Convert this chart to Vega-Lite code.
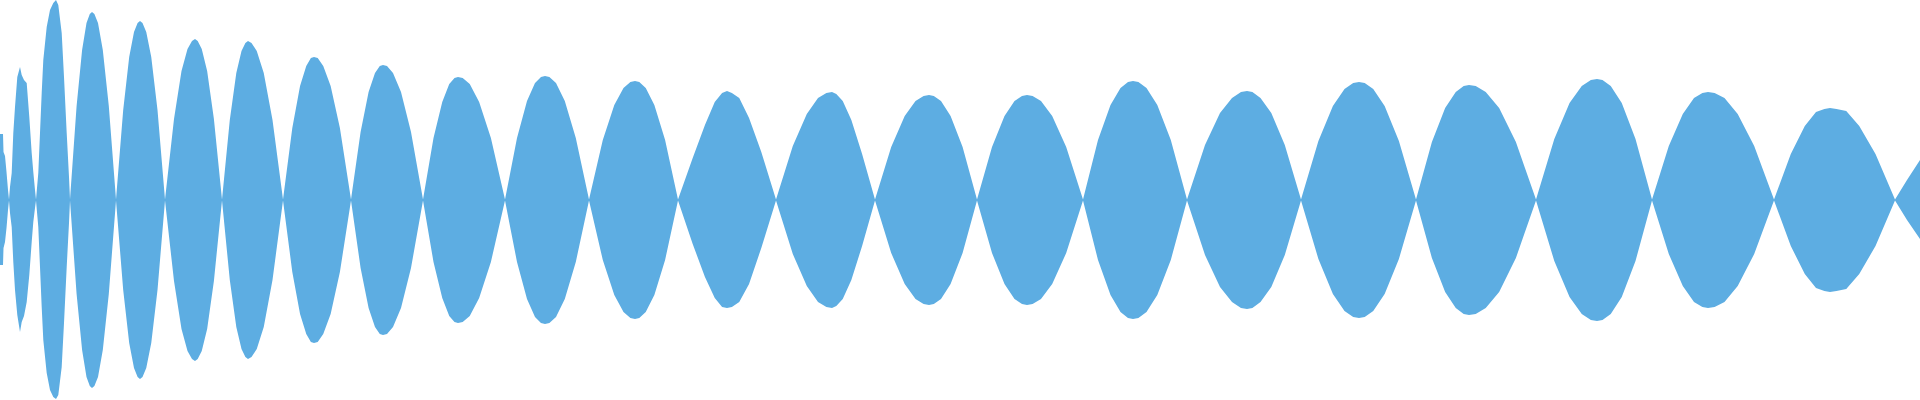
{
"$schema": "https://vega.github.io/schema/vega-lite/v6.json",
"width": 1920, "height": 400,
"autosize": {"type": "fit", "contains": "padding"},
"padding": 0,
"background": "white",
"config": {"view": {"stroke": null}},
"data": {"values": [
{"t":0,"hi":66,"lo":-65},{"t":3,"hi":66,"lo":-65},{"t":3.5,"hi":48,"lo":-48},{"t":5,"hi":44,"lo":-42},{"t":6.5,"hi":28,"lo":-28},{"t":8,"hi":10,"lo":-10},{"t":9,"hi":0.5,"lo":-0.5},
{"t":10,"hi":13,"lo":-13},{"t":11.7,"hi":27,"lo":-27},{"t":13.3,"hi":67,"lo":-62},{"t":15,"hi":93,"lo":-90},{"t":17.3,"hi":123,"lo":-115},{"t":20,"hi":133,"lo":-132},{"t":21.7,"hi":125,"lo":-122},{"t":24,"hi":120,"lo":-116},{"t":26.7,"hi":117,"lo":-102},{"t":29.3,"hi":83,"lo":-75},{"t":31.7,"hi":47,"lo":-42},{"t":33.3,"hi":28,"lo":-22},{"t":35,"hi":10,"lo":-8},{"t":36,"hi":0.5,"lo":-0.5},
{"t":38.3,"hi":27,"lo":-27},{"t":40,"hi":67,"lo":-67},{"t":41.7,"hi":107,"lo":-107},{"t":43.3,"hi":140,"lo":-140},{"t":46.7,"hi":173,"lo":-173},{"t":50,"hi":190,"lo":-190},{"t":53.3,"hi":197,"lo":-197},{"t":56,"hi":200,"lo":-199},{"t":58.3,"hi":195,"lo":-195},{"t":61.7,"hi":167,"lo":-167},{"t":64,"hi":123,"lo":-123},{"t":66.7,"hi":67,"lo":-67},{"t":69,"hi":23,"lo":-23},{"t":70,"hi":0.5,"lo":-0.5},
{"t":76.6,"hi":94,"lo":-94},{"t":82.1,"hi":150,"lo":-150},{"t":86.5,"hi":177,"lo":-177},{"t":89.8,"hi":186,"lo":-186},{"t":92,"hi":188,"lo":-188},{"t":94.4,"hi":186,"lo":-186},{"t":98,"hi":177,"lo":-177},{"t":102.8,"hi":150,"lo":-150},{"t":108.8,"hi":94,"lo":-94},{"t":116,"hi":0.5,"lo":-0.5},
{"t":123.2,"hi":90,"lo":-90},{"t":129.2,"hi":143,"lo":-143},{"t":134,"hi":168,"lo":-168},{"t":137.6,"hi":177,"lo":-177},{"t":140,"hi":179,"lo":-179},{"t":142.5,"hi":177,"lo":-177},{"t":146.25,"hi":168,"lo":-168},{"t":151.25,"hi":143,"lo":-143},{"t":157.5,"hi":90,"lo":-90},{"t":165,"hi":0.5,"lo":-0.5},
{"t":174,"hi":81,"lo":-81},{"t":181.5,"hi":129,"lo":-129},{"t":187.5,"hi":151,"lo":-151},{"t":192,"hi":159,"lo":-159},{"t":195,"hi":161,"lo":-161},{"t":197.7,"hi":159,"lo":-159},{"t":201.75,"hi":151,"lo":-151},{"t":207.15,"hi":129,"lo":-129},{"t":213.9,"hi":81,"lo":-81},{"t":222,"hi":0.5,"lo":-0.5},
{"t":229.8,"hi":80,"lo":-80},{"t":236.3,"hi":127,"lo":-127},{"t":241.5,"hi":149,"lo":-149},{"t":245.4,"hi":157,"lo":-157},{"t":248,"hi":159,"lo":-159},{"t":251.5,"hi":157,"lo":-157},{"t":256.75,"hi":149,"lo":-149},{"t":263.75,"hi":127,"lo":-127},{"t":272.5,"hi":80,"lo":-80},{"t":283,"hi":0.5,"lo":-0.5},
{"t":292.3,"hi":72,"lo":-72},{"t":300.05,"hi":114,"lo":-114},{"t":306.25,"hi":134,"lo":-134},{"t":310.9,"hi":142,"lo":-142},{"t":314,"hi":143,"lo":-143},{"t":317.7,"hi":142,"lo":-142},{"t":323.25,"hi":134,"lo":-134},{"t":330.65,"hi":114,"lo":-114},{"t":339.9,"hi":72,"lo":-72},{"t":351,"hi":0.5,"lo":-0.5},
{"t":360.6,"hi":68,"lo":-68},{"t":368.6,"hi":108,"lo":-108},{"t":375,"hi":127,"lo":-127},{"t":379.8,"hi":134,"lo":-134},{"t":383,"hi":135,"lo":-135},{"t":387,"hi":134,"lo":-134},{"t":393,"hi":127,"lo":-127},{"t":401,"hi":108,"lo":-108},{"t":411,"hi":68,"lo":-68},{"t":423,"hi":0.5,"lo":-0.5},
{"t":433.5,"hi":62,"lo":-62},{"t":442.25,"hi":98,"lo":-98},{"t":449.25,"hi":116,"lo":-116},{"t":454.5,"hi":122,"lo":-122},{"t":458,"hi":123,"lo":-123},{"t":462.7,"hi":122,"lo":-122},{"t":469.75,"hi":116,"lo":-116},{"t":479.15,"hi":98,"lo":-98},{"t":490.9,"hi":62,"lo":-62},{"t":505,"hi":0.5,"lo":-0.5},
{"t":517,"hi":62,"lo":-62},{"t":527,"hi":99,"lo":-99},{"t":535,"hi":117,"lo":-117},{"t":541,"hi":123,"lo":-123},{"t":545,"hi":124,"lo":-124},{"t":549.4,"hi":123,"lo":-123},{"t":556,"hi":117,"lo":-117},{"t":564.8,"hi":99,"lo":-99},{"t":575.8,"hi":62,"lo":-62},{"t":589,"hi":0.5,"lo":-0.5},
{"t":602.8,"hi":60,"lo":-60},{"t":614.3,"hi":95,"lo":-95},{"t":623.5,"hi":112,"lo":-112},{"t":630.4,"hi":118,"lo":-118},{"t":635,"hi":119,"lo":-119},{"t":639.3,"hi":118,"lo":-118},{"t":645.75,"hi":112,"lo":-112},{"t":654.35,"hi":95,"lo":-95},{"t":665.1,"hi":60,"lo":-60},{"t":678,"hi":0.5,"lo":-0.5},
{"t":692.7,"hi":42,"lo":-44},{"t":704.95,"hi":75,"lo":-77},{"t":714.75,"hi":98,"lo":-98},{"t":722.1,"hi":107,"lo":-107},{"t":727,"hi":109,"lo":-108},{"t":731.9,"hi":107,"lo":-107},{"t":739.25,"hi":102,"lo":-102},{"t":749.05,"hi":82,"lo":-84},{"t":761.3,"hi":48,"lo":-48},{"t":776,"hi":0.5,"lo":-0.5},
{"t":792.8,"hi":54,"lo":-54},{"t":806.8,"hi":86,"lo":-86},{"t":818,"hi":102,"lo":-102},{"t":826.4,"hi":107,"lo":-107},{"t":832,"hi":108,"lo":-108},{"t":836.3,"hi":106,"lo":-106},{"t":842.75,"hi":99,"lo":-99},{"t":851.35,"hi":80,"lo":-80},{"t":862.1,"hi":46,"lo":-46},{"t":875,"hi":0.5,"lo":-0.5},
{"t":891.2,"hi":53,"lo":-53},{"t":904.7,"hi":84,"lo":-84},{"t":915.5,"hi":99,"lo":-99},{"t":923.6,"hi":104,"lo":-104},{"t":929,"hi":105,"lo":-105},{"t":933.8,"hi":104,"lo":-104},{"t":941,"hi":99,"lo":-99},{"t":950.6,"hi":84,"lo":-84},{"t":962.6,"hi":53,"lo":-53},{"t":977,"hi":0.5,"lo":-0.5},
{"t":992,"hi":53,"lo":-53},{"t":1004.5,"hi":84,"lo":-84},{"t":1014.5,"hi":99,"lo":-99},{"t":1022,"hi":104,"lo":-104},{"t":1027,"hi":105,"lo":-105},{"t":1032.6,"hi":104,"lo":-104},{"t":1041,"hi":99,"lo":-99},{"t":1052.2,"hi":84,"lo":-84},{"t":1066.2,"hi":53,"lo":-53},{"t":1083,"hi":0.5,"lo":-0.5},
{"t":1098,"hi":60,"lo":-60},{"t":1110.5,"hi":95,"lo":-95},{"t":1120.5,"hi":112,"lo":-112},{"t":1128,"hi":118,"lo":-118},{"t":1133,"hi":119,"lo":-119},{"t":1138.4,"hi":118,"lo":-118},{"t":1146.5,"hi":112,"lo":-112},{"t":1157.3,"hi":95,"lo":-95},{"t":1170.8,"hi":60,"lo":-60},{"t":1187,"hi":0.5,"lo":-0.5},
{"t":1205,"hi":55,"lo":-55},{"t":1220,"hi":87,"lo":-87},{"t":1232,"hi":102,"lo":-102},{"t":1241,"hi":108,"lo":-108},{"t":1247,"hi":109,"lo":-109},{"t":1252.4,"hi":108,"lo":-108},{"t":1260.5,"hi":102,"lo":-102},{"t":1271.3,"hi":87,"lo":-87},{"t":1284.8,"hi":55,"lo":-55},{"t":1301,"hi":0.5,"lo":-0.5},
{"t":1318.4,"hi":59,"lo":-59},{"t":1332.9,"hi":94,"lo":-94},{"t":1344.5,"hi":111,"lo":-111},{"t":1353.2,"hi":117,"lo":-117},{"t":1359,"hi":118,"lo":-118},{"t":1364.7,"hi":117,"lo":-117},{"t":1373.25,"hi":111,"lo":-111},{"t":1384.65,"hi":94,"lo":-94},{"t":1398.9,"hi":59,"lo":-59},{"t":1416,"hi":0.5,"lo":-0.5},
{"t":1431.9,"hi":58,"lo":-58},{"t":1445.15,"hi":92,"lo":-92},{"t":1455.75,"hi":108,"lo":-108},{"t":1463.7,"hi":114,"lo":-114},{"t":1469,"hi":115,"lo":-115},{"t":1475.7,"hi":114,"lo":-114},{"t":1485.75,"hi":108,"lo":-108},{"t":1499.15,"hi":92,"lo":-92},{"t":1515.9,"hi":58,"lo":-58},{"t":1536,"hi":0.5,"lo":-0.5},
{"t":1554.3,"hi":61,"lo":-61},{"t":1569.55,"hi":97,"lo":-97},{"t":1581.75,"hi":114,"lo":-114},{"t":1590.9,"hi":120,"lo":-120},{"t":1597,"hi":121,"lo":-121},{"t":1602.5,"hi":120,"lo":-120},{"t":1610.75,"hi":114,"lo":-114},{"t":1621.75,"hi":97,"lo":-97},{"t":1635.5,"hi":61,"lo":-61},{"t":1652,"hi":0.5,"lo":-0.5},
{"t":1668.8,"hi":54,"lo":-54},{"t":1682.8,"hi":86,"lo":-86},{"t":1694,"hi":102,"lo":-102},{"t":1702.4,"hi":107,"lo":-107},{"t":1708,"hi":108,"lo":-108},{"t":1714.6,"hi":107,"lo":-107},{"t":1724.5,"hi":102,"lo":-102},{"t":1737.7,"hi":86,"lo":-86},{"t":1754.2,"hi":54,"lo":-54},{"t":1774,"hi":0.5,"lo":-0.5},
{"t":1790.8,"hi":46,"lo":-46},{"t":1804.8,"hi":74,"lo":-74},{"t":1816,"hi":88,"lo":-88},{"t":1824.4,"hi":91,"lo":-91},{"t":1830,"hi":92,"lo":-92},{"t":1836.5,"hi":91,"lo":-91},{"t":1846.25,"hi":89,"lo":-89},{"t":1859.25,"hi":74,"lo":-74},{"t":1875.5,"hi":46,"lo":-46},{"t":1895,"hi":0.5,"lo":-0.5},
{"t":1907,"hi":20,"lo":-20},{"t":1920,"hi":40,"lo":-39}
]},
"mark": {"type": "area", "color": "#5dade2", "interpolate": "linear", "opacity": 1},
"encoding": {
"x": {"field": "t", "type": "quantitative", "scale": {"domain": [0, 1920], "nice": false, "zero": false}, "axis": null},
"y": {"field": "hi", "type": "quantitative", "scale": {"domain": [-200, 200], "nice": false, "zero": false}, "axis": null},
"y2": {"field": "lo"}
}
}
